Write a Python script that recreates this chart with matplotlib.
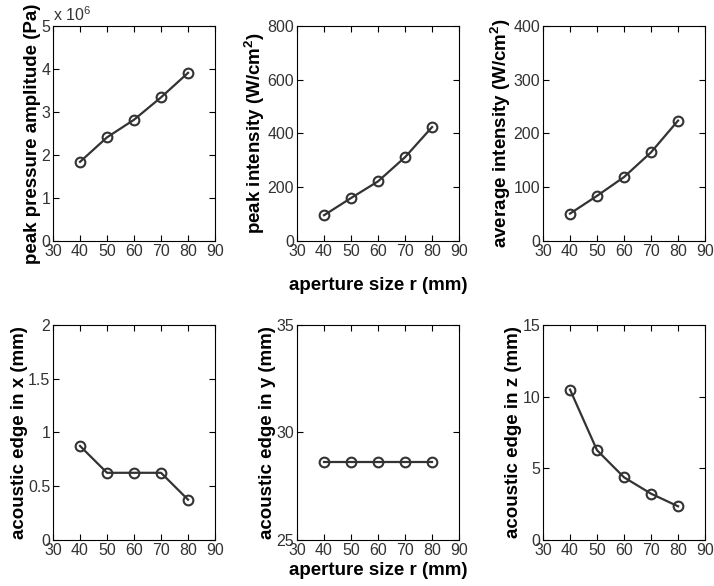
import numpy as np
import matplotlib
matplotlib.use('Agg')
import matplotlib.pyplot as plt
from matplotlib.ticker import FuncFormatter

plt.rcParams['font.family'] = ['Liberation Sans', 'DejaVu Sans']
plt.rcParams['mathtext.default'] = 'regular'

# aperture size r (mm)
aperture = [40, 50, 60, 70, 80]

peak_pressure = [1.84e6, 2.41e6, 2.82e6, 3.34e6, 3.91e6]   # Pa
peak_intensity = [96, 160, 222, 312, 424]                   # W/cm^2
avg_intensity = [51, 84, 119, 165, 224]                     # W/cm^2
edge_x = [0.875, 0.625, 0.625, 0.625, 0.375]                # mm
edge_y = [28.65, 28.65, 28.65, 28.65, 28.65]                # mm
edge_z = [10.49, 6.26, 4.37, 3.23, 2.35]                    # mm

panels = [
    (peak_pressure, 'peak pressure amplitude (Pa)', (0, 5e6), np.arange(0, 5.1e6, 1e6)),
    (peak_intensity, 'peak intensity (W/cm$^2$)', (0, 800), [0, 200, 400, 600, 800]),
    (avg_intensity, 'average intensity (W/cm$^2$)', (0, 400), [0, 100, 200, 300, 400]),
    (edge_x, 'acoustic edge in x (mm)', (0, 2), [0, 0.5, 1, 1.5, 2]),
    (edge_y, 'acoustic edge in y (mm)', (25, 35), [25, 30, 35]),
    (edge_z, 'acoustic edge in z (mm)', (0, 15), [0, 5, 10, 15]),
]

lefts = [0.0742, 0.416, 0.7605]
bottoms = [0.5887, 0.0785]
w, h = 0.227, 0.367

fig = plt.figure(figsize=(7.14, 5.86), dpi=100)

for i, (vals, lab, ylim, yt) in enumerate(panels):
    ax = fig.add_axes([lefts[i % 3], bottoms[i // 3], w, h])
    ax.plot(aperture, vals, '-o', color='#333333', lw=1.6, ms=7,
            mfc='none', mec='#333333', mew=1.5)
    ax.set_xlim(30, 90)
    ax.set_xticks(range(30, 91, 10))
    ax.set_ylim(*ylim)
    ax.set_yticks(yt)
    ax.tick_params(direction='in', top=True, right=True, length=4,
                   labelsize=11.5, labelcolor='#333333', pad=2)
    ax.set_ylabel(lab, fontsize=13.5, fontweight='bold', labelpad=0)
    for sp in ax.spines.values():
        sp.set_linewidth(0.8)
    if i == 0:
        ax.yaxis.set_major_formatter(FuncFormatter(lambda v, p: '%g' % (v / 1e6)))
        ax.text(0.0, 1.01, r'x 10$^6$', transform=ax.transAxes, fontsize=11.5,
                color='#333333', ha='left', va='bottom')
    else:
        ax.yaxis.set_major_formatter(FuncFormatter(lambda v, p: '%g' % v))
    if i == 1:
        ax.set_xlabel('aperture size r (mm)', fontsize=13.5, fontweight='bold', labelpad=13)
    if i == 4:
        ax.set_xlabel('aperture size r (mm)', fontsize=13.5, fontweight='bold', labelpad=3)

fig.savefig('out.png', dpi=100)
